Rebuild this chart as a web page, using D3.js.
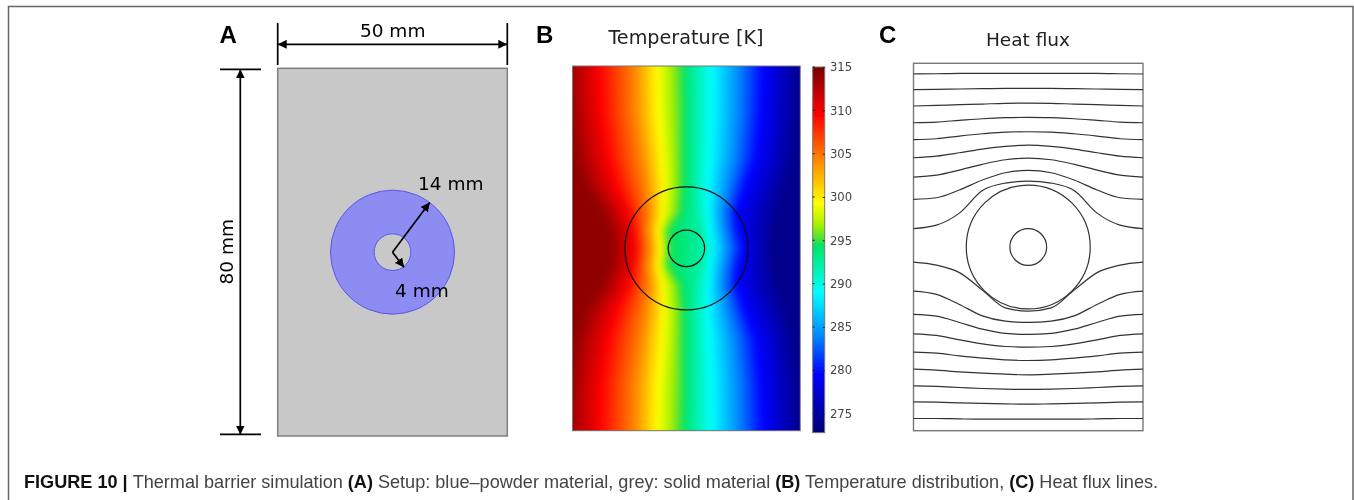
<!DOCTYPE html>
<html>
<head>
<meta charset="utf-8">
<script src="https://cdn.jsdelivr.net/npm/d3@7"></script>
<style>
	html, body { margin: 0; padding: 0; background: #fff; overflow: hidden; }
	#fig { position: relative; width: 1354px; height: 500px; }
	#fig canvas, #fig svg { position: absolute; left: 0; top: 0; }
	text { font-family: "DejaVu Sans", sans-serif; }
	.letter, .caption { font-family: "Liberation Sans", Arial, sans-serif; }
</style>
</head>
<body>
<div id="fig"></div>
<script>
// geometry of the plate, mm
const plateW = 50;
const plateH = 80;
const ringOuter = 13.5;
const ringInner = 4;
const arrowOuter = [8.1, -10.8];   // tip of the 14 mm arrow, relative to centre
const arrowInner = [2.5, 3.3];     // tip of the 4 mm arrow

// colour bar
const barTicks = [315, 310, 305, 300, 295, 290, 285, 280, 275];
const barMin = 272.8;
const barMax = 315;
const colorTemps = [315, 309.5, 304.5, 299.3, 296.8, 295, 294.4, 292, 289, 284, 279.5, 273];
const colorStops = ["#780000", "#ff0000", "#ff8000", "#ffff00", "#a8f000", "#40e040", "#00e468", "#00f0a8", "#00ffff", "#0088ff", "#0000ff", "#000078"];

// temperature field: where each isotherm crosses each row (mm from left edge)
// rows are distances from the plate's horizontal midline, field reads symmetric about it
const isoTemps = [314, 310, 304.5, 299, 295, 292, 289, 279.5, 274];
const rowDist = [0, 4, 8, 14, 20, 30, 40];
const isoRow0 = [8.5, 13.6, 16.7, 19.6, 21.0, 29.0, 30.6, 37.5, 43.7];
const isoRow4 = [8.0, 13.0, 16.3, 19.2, 20.7, 28.4, 30.2, 36.4, 44.0];
const isoRow8 = [6.5, 11.9, 16.7, 20.0, 23.5, 27.3, 29.8, 36.0, 45.2];
const isoRow14 = [2.5, 9.0, 15.9, 20.3, 24.0, 27.0, 29.8, 38.2, 47.0];
const isoRow20 = [0.5, 7.2, 14.8, 20.0, 24.0, 27.0, 30.2, 40.4, 48.5];
const isoRow30 = [-1.0, 5.7, 13.5, 19.2, 24.0, 27.0, 30.6, 41.5, 49.6];
const isoRow40 = [-1.5, 5.3, 13.4, 18.9, 23.8, 27.0, 30.6, 41.9, 50.0];
const isoRows = [isoRow0, isoRow4, isoRow8, isoRow14, isoRow20, isoRow30, isoRow40];

// heat flux lines: height in mm from plate top, read at these distances from the centre line
const fluxDist = [25, 20, 15, 10, 5, 0];
const fluxLines = [
	[2.33, 2.27, 2.18, 2.18, 2.18, 2.18],
	[5.75, 5.66, 5.60, 5.53, 5.45, 5.45],
	[9.30, 9.15, 9.02, 8.87, 8.71, 8.65],
	[12.94, 12.79, 12.42, 12.07, 11.85, 11.76],
	[16.64, 16.43, 15.84, 15.34, 14.97, 14.90],
	[20.57, 20.20, 19.48, 18.67, 18.08, 17.80],
	[24.77, 24.34, 23.25, 22.00, 21.00, 20.63],
	[29.63, 29.28, 27.60, 25.42, 23.83, 23.31],
	[36.00, 35.23, 32.62, 27.71, 26.08, 25.64],
	[43.29, 43.94, 45.58, 49.39, 53.25, 53.97],
	[49.61, 50.33, 52.51, 54.99, 56.14, 56.43],
	[54.68, 55.05, 56.43, 57.89, 58.82, 59.04],
	[58.91, 59.26, 60.22, 61.09, 61.66, 61.81],
	[62.90, 63.12, 63.70, 64.20, 64.58, 64.71],
	[66.60, 66.82, 67.19, 67.47, 67.69, 67.84],
	[70.24, 70.37, 70.59, 70.81, 70.96, 71.02],
	[73.73, 73.79, 73.94, 74.07, 74.16, 74.23],
	[77.34, 77.34, 77.43, 77.49, 77.49, 77.49]
];

const fig = d3.select("#fig");
const width = 1354, height = 500;

const xA = d3.scaleLinear().domain([0, plateW]).range([277.7, 507.3]);
const yA = d3.scaleLinear().domain([0, plateH]).range([68.3, 436]);
const xB = d3.scaleLinear().domain([0, plateW]).range([572.5, 800.3]);
const yB = d3.scaleLinear().domain([0, plateH]).range([66, 430.7]);
const xC = d3.scaleLinear().domain([0, plateW]).range([913.5, 1143]);
const yC = d3.scaleLinear().domain([0, plateH]).range([63.3, 430.7]);

const color = d3.scaleLinear().domain(colorTemps).range(colorStops).interpolate(d3.interpolateRgb).clamp(true);

// --- temperature field on a canvas underneath the svg
// painted a bit past the plate on a scratch canvas, softened, then clipped to the plate
const canvas = fig.append("canvas").attr("width", width).attr("height", height);
const ctx = canvas.node().getContext("2d");
const scratch = document.createElement("canvas");
scratch.width = width;
scratch.height = height;
const sctx = scratch.getContext("2d");
const isoAtRow = isoTemps.map((t, i) => d3.scaleLinear().domain(rowDist).range(isoRows.map(r => r[i])).clamp(true));
const fieldX0 = Math.round(xB(0)), fieldX1 = Math.round(xB(plateW));
const fieldY0 = Math.round(yB(0)), fieldY1 = Math.round(yB(plateH));
const pad = 12;
for (let py = fieldY0 - pad; py < fieldY1 + pad; py++) {
	const dist = Math.abs(yB.invert(py + 0.5) - plateH / 2);
	const temp = d3.scaleLinear().domain(isoAtRow.map(s => s(dist))).range(isoTemps).clamp(true);
	for (let px = fieldX0 - pad; px < fieldX1 + pad; px++) {
		sctx.fillStyle = color(temp(xB.invert(px + 0.5)));
		sctx.fillRect(px, py, 1, 1);
	}
}
ctx.save();
ctx.beginPath();
ctx.rect(fieldX0, fieldY0, fieldX1 - fieldX0, fieldY1 - fieldY0);
ctx.clip();
ctx.filter = "blur(3px)";
ctx.drawImage(scratch, 0, 0);
ctx.restore();

const svg = fig.append("svg").attr("width", width).attr("height", height);
const defs = svg.append("defs");

defs.append("marker")
	.attr("id", "head")
	.attr("viewBox", "0 0 10 10")
	.attr("refX", 10).attr("refY", 5)
	.attr("markerUnits", "userSpaceOnUse")
	.attr("markerWidth", 9).attr("markerHeight", 9)
	.attr("orient", "auto-start-reverse")
	.append("path").attr("d", "M0,0L10,5L0,10z").attr("fill", "#000");

// the source is a soft raster, this takes the edge off
defs.append("filter").attr("id", "soft")
	.attr("x", "-5%").attr("y", "-5%").attr("width", "110%").attr("height", "110%")
	.append("feGaussianBlur").attr("stdDeviation", 0.35);

// figure frame, open at the bottom
svg.append("path")
	.attr("d", "M8.5,500V6.5H1353V500")
	.attr("fill", "none").attr("stroke", "#666").attr("stroke-width", 1.5);

// --- panel A
const a = svg.append("g").attr("filter", "url(#soft)");
a.append("rect")
	.attr("x", xA(0)).attr("y", yA(0))
	.attr("width", xA(plateW) - xA(0)).attr("height", yA(plateH) - yA(0))
	.attr("fill", "#c8c8c8").attr("stroke", "#808080").attr("stroke-width", 1.5);
const kA = xA(1) - xA(0);
const cxA = xA(plateW / 2), cyA = yA(plateH / 2);
a.append("circle").attr("cx", cxA).attr("cy", cyA).attr("r", ringOuter * kA)
	.attr("fill", "#8c8cf2").attr("stroke", "#5656ee");
a.append("circle").attr("cx", cxA).attr("cy", cyA).attr("r", ringInner * kA)
	.attr("fill", "#c8c8c8").attr("stroke", "#5656ee");

function arrow(g, x1, y1, x2, y2, both) {
	const l = g.append("line")
		.attr("x1", x1).attr("y1", y1).attr("x2", x2).attr("y2", y2)
		.attr("stroke", "#000").attr("stroke-width", 1.7)
		.attr("marker-end", "url(#head)");
	if (both) l.attr("marker-start", "url(#head)");
}
function rule(g, x1, y1, x2, y2) {
	g.append("line").attr("x1", x1).attr("y1", y1).attr("x2", x2).attr("y2", y2)
		.attr("stroke", "#000").attr("stroke-width", 1.7);
}

arrow(a, cxA, cyA, xA(plateW / 2 + arrowOuter[0]), yA(plateH / 2 + arrowOuter[1]), false);
arrow(a, cxA, cyA, xA(plateW / 2 + arrowInner[0]), yA(plateH / 2 + arrowInner[1]), false);
arrow(a, xA(0), 44.3, xA(plateW), 44.3, true);
arrow(a, 240.3, yA(0) + 1, 240.3, yA(plateH) - 1.5, true);
rule(a, xA(0), 23, xA(0), 65);
rule(a, xA(plateW), 23, xA(plateW), 65);
rule(a, 220, 69.3, 261, 69.3);
rule(a, 220, 434.3, 261, 434.3);

a.append("text").attr("x", 392.7).attr("y", 36.8).attr("text-anchor", "middle").attr("font-size", 18.5).text("50 mm");
a.append("text").attr("transform", "translate(233,251.7) rotate(-90)").attr("text-anchor", "middle").attr("font-size", 18.5).text("80 mm");
a.append("text").attr("x", 418).attr("y", 190).attr("font-size", 18.5).text("14 mm");
a.append("text").attr("x", 395).attr("y", 296.7).attr("font-size", 18.5).text("4 mm");

// --- panel B
const b = svg.append("g").attr("filter", "url(#soft)");
b.append("rect")
	.attr("x", xB(0)).attr("y", yB(0))
	.attr("width", xB(plateW) - xB(0)).attr("height", yB(plateH) - yB(0))
	.attr("fill", "none").attr("stroke", "#777");
const kB = xB(1) - xB(0);
[ringOuter, ringInner].forEach(r => {
	b.append("circle").attr("cx", xB(plateW / 2)).attr("cy", yB(plateH / 2)).attr("r", r * kB)
		.attr("fill", "none").attr("stroke", "#111").attr("stroke-width", 1.2);
});
b.append("text").attr("x", 686).attr("y", 44.3).attr("text-anchor", "middle").attr("font-size", 19.2).attr("fill", "#222").text("Temperature [K]");

// colour bar
const yBar = d3.scaleLinear().domain([315, 275]).range([67, 413.6]);
const barId = "barGrad";
const grad = defs.append("linearGradient").attr("id", barId).attr("x1", 0).attr("x2", 0).attr("y1", 0).attr("y2", 1);
grad.selectAll("stop").data(colorTemps).enter().append("stop")
	.attr("offset", d => (barMax - Math.max(d, barMin)) / (barMax - barMin))
	.attr("stop-color", d => color(d));
b.append("rect")
	.attr("x", 812.7).attr("y", yBar(barMax))
	.attr("width", 12).attr("height", yBar(barMin) - yBar(barMax))
	.attr("fill", "url(#" + barId + ")").attr("stroke", "#777");

const barAxis = d3.axisRight(yBar).tickValues(barTicks).tickSize(1.5).tickPadding(4);
const gAxis = b.append("g").attr("transform", "translate(824.7,0)").call(barAxis);
gAxis.select(".domain").remove();
gAxis.selectAll("line").attr("x1", -2).attr("x2", 0).attr("stroke", "#222");
gAxis.selectAll("text").attr("x", 5.3).attr("font-size", 11.6).attr("fill", "#444").attr("font-family", "DejaVu Sans");
b.selectAll(".tickLeft").data(barTicks).enter().append("line")
	.attr("class", "tickLeft")
	.attr("x1", 812.7).attr("x2", 814.7)
	.attr("y1", d => yBar(d)).attr("y2", d => yBar(d))
	.attr("stroke", "#222");

// --- panel C
const c = svg.append("g").attr("filter", "url(#soft)");
c.append("rect")
	.attr("x", xC(0)).attr("y", yC(0))
	.attr("width", xC(plateW) - xC(0)).attr("height", yC(plateH) - yC(0))
	.attr("fill", "none").attr("stroke", "#777").attr("stroke-width", 1.4);
const kC = xC(1) - xC(0);
[ringOuter, ringInner].forEach(r => {
	c.append("circle").attr("cx", xC(plateW / 2)).attr("cy", yC(plateH / 2)).attr("r", r * kC)
		.attr("fill", "none").attr("stroke", "#333").attr("stroke-width", 1.2);
});
const fluxPath = d3.line()
	.x(d => xC(d[0]))
	.y(d => yC(d[1]))
	.curve(d3.curveMonotoneX);
c.selectAll(".flux").data(fluxLines).enter().append("path")
	.attr("class", "flux")
	.attr("fill", "none").attr("stroke", "#333").attr("stroke-width", 1.2)
	.attr("d", line => {
		const left = fluxDist.map((dx, i) => [plateW / 2 - dx, line[i]]);
		const right = fluxDist.slice(0, -1).reverse().map((dx, i) => [plateW / 2 + dx, line[fluxDist.length - 2 - i]]);
		return fluxPath(left.concat(right));
	});
c.append("text").attr("x", 1028).attr("y", 46).attr("text-anchor", "middle").attr("font-size", 18.5).attr("fill", "#222").text("Heat flux");

// --- panel letters
const letters = [["A", 219.5], ["B", 536], ["C", 879]];
svg.selectAll(".letter").data(letters).enter().append("text")
	.attr("class", "letter")
	.attr("x", d => d[1]).attr("y", 43)
	.attr("font-size", 24).attr("font-weight", "bold").attr("fill", "#000")
	.text(d => d[0]);

// --- caption
const cap = svg.append("text").attr("class", "caption").attr("x", 24).attr("y", 488).attr("font-size", 18.1).attr("fill", "#444");
const capParts = [
	["FIGURE 10 | ", true], ["Thermal barrier simulation ", false], ["(A)", true],
	[" Setup: blue\u2013powder material, grey: solid material ", false], ["(B)", true],
	[" Temperature distribution, ", false], ["(C)", true], [" Heat flux lines.", false]
];
capParts.forEach(p => {
	cap.append("tspan").text(p[0])
		.attr("font-weight", p[1] ? "bold" : "normal")
		.attr("fill", p[1] ? "#111" : "#444");
});
</script>
</body>
</html>
